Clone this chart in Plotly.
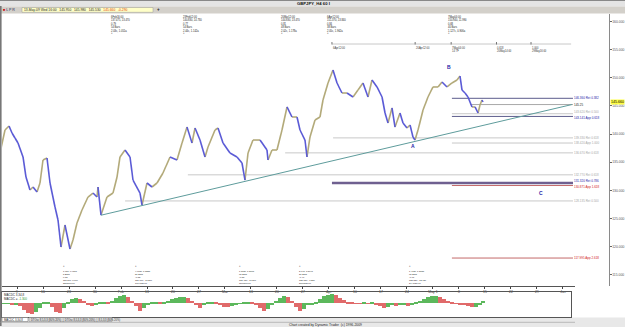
import pandas as pd
import plotly.graph_objects as go

W, H = 625, 327
BASE = pd.Timestamp("2009-01-01")


def when(day):
    return (BASE + pd.Timedelta(days=float(day))).strftime("%Y-%m-%d %H:%M:%S")


def px(x):
    return x / W


def py(y):
    return 1 - y / H


# ---------------- data ----------------
# GBPJPY H4 closes (day offset from 2009-01-01, price)
price_days = [3.42, 4.77, 5.85, 6.65, 7.46, 8.27, 9.62, 10.42, 11.50, 12.31,
              13.39, 14.19, 15.00, 16.08, 16.89, 18.23, 19.04, 19.85, 20.92, 22.27,
              23.08, 24.15, 25.50, 27.12, 28.46, 29.54, 29.81, 30.62, 32.23, 33.85,
              34.93, 35.73, 37.08, 38.43, 39.23, 41.12, 41.66, 43.00, 44.35, 45.70,
              47.31, 49.20, 51.08, 52.43, 53.77, 55.12, 55.93, 57.27, 58.62, 59.43,
              61.31, 62.12, 63.47, 65.35, 67.23, 68.58, 69.39, 70.20, 71.54, 73.43,
              75.31, 75.58, 76.66, 78.00, 79.35, 80.70, 82.04, 83.39, 84.20, 85.54,
              86.08, 86.89, 88.24, 89.58, 90.39, 91.74, 93.08, 94.16, 95.50, 96.85,
              98.47, 99.81, 101.16, 102.51, 103.58, 104.93, 106.28, 107.09, 107.89, 108.97,
              109.78, 111.12, 111.93, 113.01, 113.82, 114.62, 115.16, 115.97, 117.32, 118.66,
              120.01, 121.36, 122.43, 123.78, 125.12, 126.47, 127.28, 127.82, 128.62, 129.43,
              130.51, 131.32, 132.13, 132.66, 133.20, 133.47]
price_vals = [136.65, 140.73, 141.44, 140.20, 139.31, 138.42, 135.94, 132.38, 130.08, 130.61,
              129.72, 131.32, 135.40, 135.76, 131.32, 127.06, 124.75, 119.95, 123.86, 119.60,
              121.19, 124.21, 126.52, 128.83, 129.54, 128.83, 130.61, 125.63, 128.83, 129.54,
              132.38, 135.94, 137.18, 135.94, 131.85, 129.54, 127.41, 131.32, 130.61, 131.32,
              133.09, 135.94, 135.40, 138.42, 141.26, 138.42, 141.09, 138.95, 135.94, 137.71,
              140.73, 141.09, 138.42, 136.65, 135.94, 134.87, 131.85, 136.65, 138.95, 138.95,
              137.18, 135.40, 137.18, 137.18, 140.73, 144.82, 143.04, 143.04, 140.73, 138.95,
              135.94, 139.49, 142.51, 143.04, 146.06, 149.08, 151.39, 149.08, 147.30, 147.30,
              146.59, 147.83, 149.08, 146.59, 149.61, 148.37, 146.59, 143.75, 141.97, 144.64,
              141.26, 143.75, 141.97, 141.09, 141.62, 139.49, 138.95, 140.73, 144.28, 146.59,
              148.37, 148.37, 149.26, 148.37, 149.08, 149.61, 150.32, 147.83, 147.30, 146.59,
              144.82, 144.82, 143.75, 145.17, 146.06, 145.70]

trend_days = [30.62, 157.4]
trend_vals = [125.60, 145.25]

fib_prices = [146.360, 145.250, 143.620, 143.141, 139.330, 138.420, 136.670,
              132.770, 131.320, 130.871, 128.135, 117.995]
fib_labels = ["146.360 Ret 0.382", "145.25", "143.620 Ret 0.500", "143.141 App 0.618",
              "139.330 Ret 0.618", "138.420 App 1.000", "136.670 Ret 0.618",
              "132.770 Ret 0.618", "131.320 Ret 0.786", "130.871 App 1.618",
              "128.135 Ret 0.500", "117.995 App 2.618"]
fib_start_days = [125.1, 130.0, 125.1, 125.1, 93.1, 125.1, 80.2, 54.0, 92.8, 125.1, 37.1, 125.1]
fib_kind = ["navy", "black", "light", "navy", "light", "light", "light",
            "light", "purple", "red", "light", "red"]
fib_end_day = 157.7

wave_labels = ["A", "B", "C"]
wave_days = [114.6, 124.3, 149.1]
wave_prices = [137.9, 151.9, 129.5]

tick_days = [8, 15, 22, 29, 36, 43, 50, 57, 64, 71, 78, 85, 92, 99, 106, 113,
             120, 127, 134, 141, 148, 155]
tick_text = ["9", "16", "23", "30", "Feb", "13", "20", "27", "Mar", "13", "20", "27",
             "Apr", "10", "17", "24", "May 1", "8", "15", "22", "29", "Jun"]
price_ticks = [115, 120, 125, 130, 135, 140, 145, 150, 155, 160]
last_price = 145.660

top_note_days = [33.0, 52.4, 78.8, 91.2, 123.8]
top_notes = [
    ["6Feb16:00", "137.475, 13.470", "0.79", "54 Bars", "2.03c, 1.051a"],
    ["23Feb12:00", "140.830, 14.730", "0.77", "54 Bars", "2.44c, 1.142a"],
    ["20Mar12:00", "144.830, 13.470", "0.81", "48 Bars", "2.02c, 1.178a"],
    ["6Apr12:00", "151.370, 13.840", "0.84", "38 Bars", "2.05c, 1.962a"],
    ["7May04:00", "150.940, 11.990", "0.68", "40 Bars", "1.127c, 0.906a"],
]
time_days = [92.8, 115.2, 124.9, 137.1, 146.4]
time_notes = [["6Apr12:00"], ["20Apr12:00"], ["7May04:00", "14 TF"],
              ["0.618", "20May14:00"], ["1.000", "29May16:00"]]

bot_note_days = [20.1, 39.5, 67.5, 83.7, 113.3]
bot_notes = [
    ["1.959, 0.481a", "8 Bars", "0.88", "118.800, 0.000", "23Jan00:00"],
    ["4.063c, 1.832a", "39 Bars", "-0.52", "127.100, -10.270", "10Feb20:00"],
    ["1.873c, 1.371a", "65 Bars", "-0.58", "131.450, -10.300", "11Mar00:00"],
    ["2.94b, 1.894a", "26 Bars", "-0.49", "135.750, -9.380", "27Mar20:00"],
    ["1.402c, 1.212a", "95 Bars", "-0.61", "138.830, -12.420", "24Apr20:00"],
]

macd_days = [3.42, 4.50, 5.58, 6.65, 7.73, 8.81, 9.88, 10.96, 12.04, 13.12,
             14.19, 15.27, 16.35, 17.42, 18.50, 19.58, 20.65, 21.73, 22.81, 23.89,
             24.96, 26.04, 27.12, 28.19, 29.27, 30.35, 31.42, 32.50, 33.58, 34.66,
             35.73, 36.81, 37.89, 38.96, 40.04, 41.12, 42.19, 43.27, 44.35, 45.43,
             46.50, 47.58, 48.66, 49.73, 50.81, 51.89, 52.96, 54.04, 55.12, 56.20,
             57.27, 58.35, 59.43, 60.50, 61.58, 62.66, 63.73, 64.81, 65.89, 66.97,
             68.04, 69.12, 70.20, 71.27, 72.35, 73.43, 74.50, 75.58, 76.66, 77.74,
             78.81, 79.89, 80.97, 82.04, 83.12, 84.20, 85.27, 86.35, 87.43, 88.51,
             89.58, 90.66, 91.74, 92.81, 93.89, 94.97, 96.04, 97.12, 98.20, 99.27,
             100.35, 101.43, 102.51, 103.58, 104.66, 105.74, 106.81, 107.89, 108.97, 110.04,
             111.12, 112.20, 113.27, 114.35, 115.43, 116.50, 117.58, 118.66, 119.74, 120.81,
             121.89, 122.97, 124.04, 125.12, 126.20, 127.27, 128.35, 129.43, 130.50, 131.58,
             132.66, 133.47]
macd_vals = [-0.08, -0.08, -0.08, -0.15, -0.15, -0.45, -1.05, -1.50, -1.65, -1.35,
             -0.75, 0.08, 0.15, -0.60, -1.35, -1.42, -0.75, 0.15, 0.60, 0.82,
             0.68, 0.30, -0.15, -0.45, -0.30, 0.08, 0.22, 0.15, 0.30, 0.75,
             1.05, 1.20, 0.90, 0.30, -0.45, -1.12, -0.75, -0.15, 0.15, 0.22,
             0.15, 0.22, 0.30, 0.60, 0.75, 0.90, 0.98, 0.75, 0.30, -0.30,
             -0.68, -0.30, 0.15, 0.22, 0.08, -0.30, -0.52, -0.60, -0.45, -0.22,
             0.02, 0.08, 0.15, 0.08, -0.15, -0.75, -1.12, -0.90, -0.30, 0.30,
             0.75, 1.05, 0.90, 0.30, -0.60, -1.20, -0.90, -0.30, -0.15, 0.15,
             0.60, 1.05, 1.28, 1.35, 1.20, 0.75, 0.45, 0.22, 0.08, 0.02,
             -0.08, 0.08, -0.08, 0.08, -0.15, -0.45, -0.75, -0.60, -0.30, -0.38,
             -0.30, -0.30, -0.45, -0.30, 0.08, 0.30, 0.60, 0.90, 1.05, 1.12,
             0.90, 0.60, 0.38, 0.15, 0.02, -0.15, -0.30, -0.45, -0.60, -0.52,
             -0.15, 0.30]

# ---------------- styles ----------------
FONT = "Liberation Sans"
BLUE = "#5b5bd6"
TAN = "#b3aa7a"
kind_line = {"navy": ("#5c5c8c", 1), "black": ("#a8a8a8", 1), "light": ("#c8c8c8", 1),
             "purple": ("#6f6090", 2.4), "red": ("#c46a6a", 1)}
kind_text = {"navy": "#1e1ea8", "black": "#222222", "light": "#a8a8a8",
             "purple": "#1e1ea8", "red": "#d02020"}
# small vertical nudges (px) so close fib labels do not collide
label_nudge = {"143.620 Ret 0.500": 1.6, "143.141 App 0.618": -1.6,
               "131.320 Ret 0.786": 1.6, "130.871 App 1.618": -1.6}

X0, X1 = 2, 575            # main plot horizontal span in px
Y_TOP, Y_BOT = 14, 286     # main plot vertical span in px
M_TOP, M_BOT = 292, 317    # MACD panel

fig = go.Figure()

# price segments coloured by direction
bx, by, tx, ty = [], [], [], []
for i in range(1, len(price_days)):
    sx = [when(price_days[i - 1]), when(price_days[i]), None]
    sy = [price_vals[i - 1], price_vals[i], None]
    if price_vals[i] < price_vals[i - 1]:
        bx += sx
        by += sy
    else:
        tx += sx
        ty += sy
fig.add_trace(go.Scatter(x=tx, y=ty, mode="lines", line=dict(color=TAN, width=1.6),
                         hoverinfo="skip", xaxis="x", yaxis="y"))
fig.add_trace(go.Scatter(x=bx, y=by, mode="lines", line=dict(color=BLUE, width=1.6),
                         hoverinfo="skip", xaxis="x", yaxis="y"))

# trendline
fig.add_trace(go.Scatter(x=[when(d) for d in trend_days], y=trend_vals, mode="lines",
                         line=dict(color="#5e9c9c", width=1), hoverinfo="skip",
                         xaxis="x", yaxis="y"))

# MACD histogram
mcol = []
for i, v in enumerate(macd_vals):
    prev = macd_vals[i - 1] if i > 0 else v
    mcol.append("#5cb85c" if v >= prev else "#e06a6a")
fig.add_trace(go.Bar(x=[when(d) for d in macd_days], y=macd_vals,
                     marker=dict(color=mcol, line=dict(width=0)),
                     width=1.08 * 86400000, hoverinfo="skip", xaxis="x2", yaxis="y2"))

shapes = []
ann = []

# fib / retracement lines
for p, lab, sd, k in zip(fib_prices, fib_labels, fib_start_days, fib_kind):
    c, w = kind_line[k]
    shapes.append(dict(type="line", xref="x", yref="y", x0=when(sd), x1=when(fib_end_day),
                       y0=p, y1=p, line=dict(color=c, width=w), layer="below"))
    ann.append(dict(x=px(573), xref="paper", y=p, yref="y", text=lab, showarrow=False,
                    xanchor="left", yanchor="middle", borderpad=0,
                    yshift=label_nudge.get(lab, 0),
                    font=dict(family=FONT, size=3.0, color=kind_text[k])))

# wave labels
for t, d, p in zip(wave_labels, wave_days, wave_prices):
    ann.append(dict(x=when(d), xref="x", y=p, yref="y", text="<b>%s</b>" % t, showarrow=False,
                    font=dict(family=FONT, size=5, color="#1e1ea8")))

# last price box
ann.append(dict(x=px(610), xref="paper", y=last_price, yref="y", text="%.3f" % last_price,
                showarrow=False, xanchor="left", yanchor="middle", bgcolor="#ffff44",
                borderpad=0, font=dict(family=FONT, size=3.6, color="#000")))

# note blocks (top and bottom), each block one multi-line text
for d, lines in zip(top_note_days, top_notes):
    ann.append(dict(x=when(d), xref="x", y=py(13.8), yref="paper", text="<br>".join(lines),
                    showarrow=False, xanchor="left", yanchor="top", align="left", borderpad=0,
                    font=dict(family=FONT, size=2.6, color="#222")))
    ann.append(dict(x=when(d), xref="x", y=py(33.6), yref="paper", text="+", showarrow=False,
                    xanchor="left", yanchor="middle", borderpad=0,
                    font=dict(family=FONT, size=2.6, color="#333")))
for d, lines in zip(bot_note_days, bot_notes):
    ann.append(dict(x=when(d), xref="x", y=py(266.8), yref="paper", text="+", showarrow=False,
                    xanchor="left", yanchor="middle", borderpad=0,
                    font=dict(family=FONT, size=2.6, color="#333")))
    ann.append(dict(x=when(d), xref="x", y=py(269.2), yref="paper", text="<br>".join(lines),
                    showarrow=False, xanchor="left", yanchor="top", align="left", borderpad=0,
                    font=dict(family=FONT, size=2.25, color="#222")))

# time projection row
shapes.append(dict(type="line", xref="x", yref="paper", x0=when(time_days[0]), x1=when(157.2),
                   y0=py(44), y1=py(44), line=dict(color="#c8c8c8", width=1)))
for d, lines in zip(time_days, time_notes):
    shapes.append(dict(type="line", xref="x", yref="paper", x0=when(d), x1=when(d),
                       y0=py(42), y1=py(44.5), line=dict(color="#555", width=0.8)))
    ann.append(dict(x=when(d), xref="x", y=py(45.3), yref="paper", text="<br>".join(lines),
                    showarrow=False, xanchor="left", yanchor="top", align="left", borderpad=0,
                    font=dict(family=FONT, size=2.6, color="#333")))

# ---------------- window chrome ----------------
shapes += [
    dict(type="rect", xref="paper", yref="paper", x0=0, x1=1, y0=py(6.5), y1=1,
         fillcolor="#e4e4e4", line=dict(width=0), layer="below"),
    dict(type="line", xref="paper", yref="paper", x0=0, x1=1, y0=py(0.5), y1=py(0.5),
         line=dict(color="#888", width=1)),
    dict(type="rect", xref="paper", yref="paper", x0=0, x1=1, y0=py(13.5), y1=py(6.5),
         fillcolor="#d3d0ca", line=dict(width=0), layer="below"),
    dict(type="rect", xref="paper", yref="paper", x0=px(22), x1=px(153), y0=py(12.3), y1=py(7.5),
         fillcolor="#ffffc8", line=dict(color="#999", width=0.5)),
    dict(type="line", xref="paper", yref="paper", x0=px(0.8), x1=px(0.8), y0=py(326), y1=py(6),
         line=dict(color="#777", width=1.6)),
    dict(type="rect", xref="paper", yref="paper", x0=0, x1=1, y0=py(327), y1=py(317.5),
         fillcolor="#e8e8e8", line=dict(width=0), layer="below"),
    dict(type="line", xref="paper", yref="paper", x0=0, x1=px(575), y0=py(322.3), y1=py(322.3),
         line=dict(color="#999", width=0.6)),
    dict(type="rect", xref="paper", yref="paper", x0=px(2), x1=px(28), y0=py(321.5), y1=py(317.5),
         fillcolor="#ffffff", line=dict(color="#666", width=0.5)),
    dict(type="rect", xref="paper", yref="paper", x0=px(29), x1=px(112), y0=py(321.5), y1=py(317.5),
         fillcolor="#dcdcdc", line=dict(color="#888", width=0.5)),
]

chrome_text = [
    (px(296), py(3.3), "<b>GBPJPY_H4 60 I</b>", 4.2, "#111", "left"),
    (px(2), py(9.8), "<span style='color:#c00'>■</span> L P R", 3.6, "#225", "left"),
    (px(23), py(9.9), "13-May-09 Wed 16:00 &nbsp; 145.950 &nbsp; 145.980 &nbsp; 145.530 &nbsp; "
                      "<span style='color:#e04000'>145.660 &nbsp; -0.290</span>", 3.3, "#222", "left"),
    (px(156), py(9.8), "<b>+</b>", 4.5, "#222", "left"),
    (px(3), py(294.5), "MACDC 3,34,8", 3.0, "#222", "left"),
    (px(3), py(298.6), "MACDC = <span style='color:#2a9a2a'>-1.300</span>", 3.0, "#222", "left"),
    (px(3), py(319.6), "MACDC 3,34,8", 2.8, "#222", "left"),
    (px(30), py(319.6), "DTOsc 8,5,3,3 (80% 20%) &nbsp;|&nbsp; DTOsc 8,5,3,3 (80% 20%) &nbsp;|&nbsp; 8,5,3,3 (80% 20%)",
     2.6, "#333", "left"),
    (px(326), py(324.8), "Chart created by Dynamic Trader  (c) 1996-2009", 3.4, "#222", "center"),
]
for x, y, t, s, c, xa in chrome_text:
    ann.append(dict(x=x, y=y, xref="paper", yref="paper", text=t, showarrow=False,
                    xanchor=xa, yanchor="middle", borderpad=0,
                    font=dict(family=FONT, size=s, color=c)))

fig.update_layout(
    width=W, height=H, margin=dict(l=0, r=0, t=0, b=0),
    paper_bgcolor="white", plot_bgcolor="white", showlegend=False, bargap=0,
    shapes=shapes, annotations=ann, hovermode=False,
    xaxis=dict(type="date", domain=[px(X0), px(X1)], range=[when(3.96), when(158.24)],
               anchor="y", tickvals=[when(d) for d in tick_days], ticktext=tick_text,
               ticks="outside", ticklen=1.5, tickcolor="#444", showline=True,
               linecolor="#555", linewidth=1, showgrid=False, zeroline=False,
               tickfont=dict(family=FONT, size=3.4, color="#333")),
    yaxis=dict(domain=[py(Y_BOT), py(Y_TOP)], range=[113.03, 161.33], side="right",
               anchor="free", position=px(609), tickvals=price_ticks,
               ticktext=["%.3f" % v for v in price_ticks], ticks="outside", ticklen=1.5,
               tickcolor="#666", showline=True, linecolor="#8a8a8a", linewidth=1,
               showgrid=False, zeroline=False,
               tickfont=dict(family=FONT, size=3.4, color="#555")),
    xaxis2=dict(type="date", domain=[px(X0), px(571)], range=[when(3.96), when(157.2)],
                anchor="y2", showticklabels=False, ticks="", showline=True, mirror=True,
                linecolor="#555", linewidth=1, showgrid=False, zeroline=False),
    yaxis2=dict(domain=[py(M_BOT), py(M_TOP)], range=[-2.05, 1.7], anchor="x2",
                showticklabels=False, ticks="", showline=True, mirror=True,
                linecolor="#555", linewidth=1, showgrid=False, zeroline=False),
)

fig.write_html("out.html", config={"displayModeBar": False})
